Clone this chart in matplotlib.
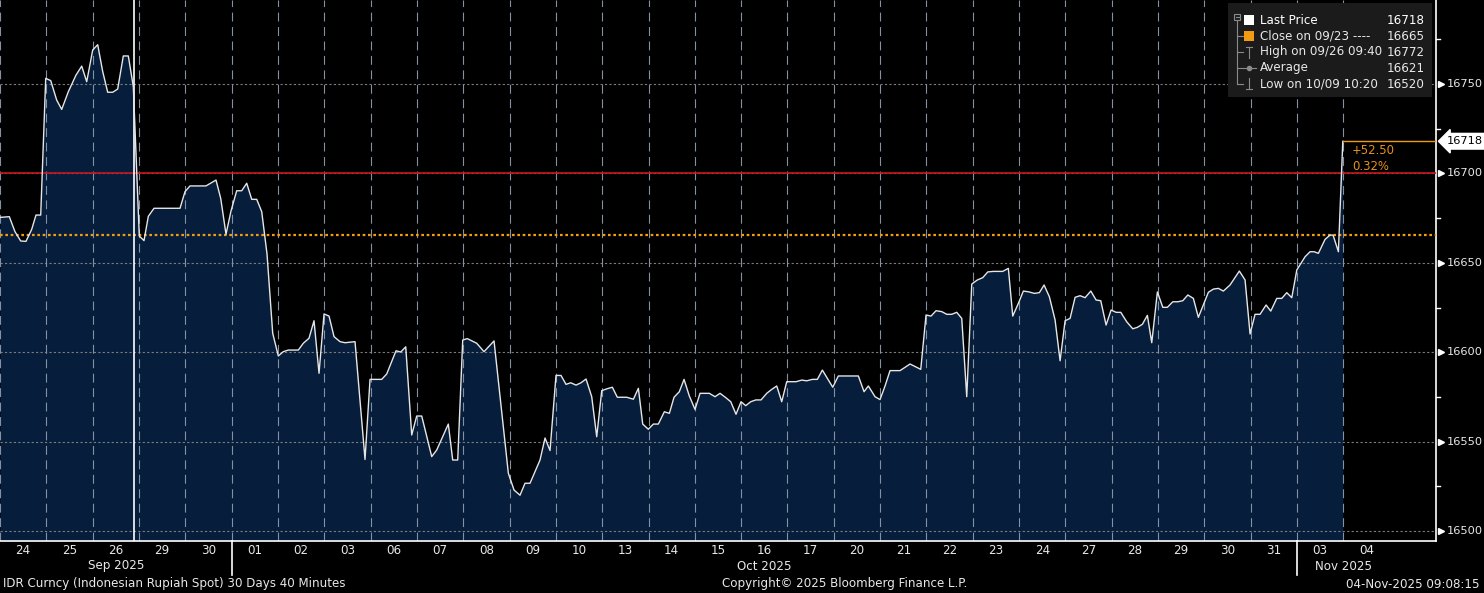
import matplotlib
matplotlib.use("Agg")
import matplotlib.pyplot as plt
import matplotlib.transforms as mtransforms
from matplotlib.patches import Rectangle
from matplotlib.lines import Line2D

# ---- data (trading days since 24 Sep open, IDR per USD) ----
t_days = [0, 0.201, 0.324, 0.447, 0.561, 0.684, 0.777, 0.879, 0.987, 1.095,
          1.224, 1.332, 1.475, 1.641, 1.764, 1.872, 2.001, 2.109, 2.217, 2.325,
          2.433, 2.541, 2.662, 2.770, 2.878, 3.007, 3.109, 3.202, 3.325, 3.886,
          3.994, 4.102, 4.447, 4.663, 4.765, 4.879, 4.987, 5.110, 5.218, 5.326,
          5.434, 5.542, 5.650, 5.764, 5.887, 6.008, 6.116, 6.224, 6.440, 6.548,
          6.671, 6.779, 6.887, 6.995, 7.103, 7.211, 7.340, 7.448, 7.664, 7.880,
          7.988, 8.240, 8.348, 8.549, 8.651, 8.759, 8.888, 8.996, 9.104, 9.320,
          9.428, 9.678, 9.773, 9.881, 9.989, 10.088, 10.291, 10.449, 10.665, 10.974,
          11.097, 11.226, 11.334, 11.442, 11.658, 11.766, 11.874, 12.003, 12.111, 12.219,
          12.321, 12.435, 12.543, 12.651, 12.774, 12.882, 12.990, 13.111, 13.219, 13.327,
          13.530, 13.673, 13.781, 13.875, 13.996, 14.104, 14.212, 14.342, 14.450, 14.551,
          14.665, 14.767, 14.881, 15.004, 15.112, 15.313, 15.436, 15.544, 15.667, 15.775,
          15.889, 15.997, 16.099, 16.207, 16.315, 16.429, 16.552, 16.660, 16.768, 16.876,
          16.984, 17.185, 17.308, 17.416, 17.537, 17.645, 17.753, 17.977, 18.098, 18.530,
          18.653, 18.746, 18.890, 18.998, 19.106, 19.214, 19.430, 19.646, 19.877, 19.991,
          20.099, 20.207, 20.330, 20.438, 20.546, 20.654, 20.762, 20.870, 20.978, 21.099,
          21.216, 21.324, 21.444, 21.647, 21.768, 21.863, 21.984, 22.092, 22.200, 22.330,
          22.438, 22.539, 22.654, 22.777, 22.885, 22.993, 23.101, 23.209, 23.317, 23.425,
          23.548, 23.662, 23.763, 23.878, 23.986, 24.094, 24.195, 24.324, 24.454, 24.553,
          24.661, 24.769, 24.864, 24.985, 25.102, 25.201, 25.318, 25.426, 25.534, 25.642,
          25.762, 25.870, 26.086, 26.194, 26.302, 26.410, 26.554, 26.755, 26.878, 26.986,
          27.094, 27.202, 27.332, 27.433, 27.563, 27.671, 27.779, 27.887, 27.995, 28.174,
          28.282, 28.368, 28.461, 28.605, 28.713, 28.778, 28.893, 28.988]
price = [16675.4, 16675.8, 16667.4, 16662.2, 16662.0, 16668.7, 16676.7, 16676.7, 16753.2, 16751.9,
         16741.0, 16735.8, 16745.7, 16755.0, 16760.0, 16751.3, 16769.0, 16772.0, 16757.0, 16745.4,
         16745.4, 16747.2, 16765.7, 16765.7, 16748.5, 16665.0, 16662.4, 16676.0, 16680.5, 16680.5,
         16689.8, 16693.0, 16693.0, 16696.3, 16686.0, 16666.0, 16679.0, 16690.3, 16690.3, 16694.5,
         16685.5, 16685.5, 16678.6, 16655.0, 16610.6, 16597.9, 16600.3, 16601.2, 16601.2, 16605.0,
         16607.8, 16617.6, 16588.2, 16621.4, 16620.2, 16608.7, 16605.9, 16605.3, 16605.9, 16540.0,
         16584.8, 16584.8, 16587.8, 16600.8, 16600.1, 16603.0, 16553.7, 16564.3, 16564.3, 16541.6,
         16545.3, 16559.8, 16539.7, 16539.7, 16606.8, 16607.6, 16605.0, 16600.3, 16606.3, 16532.3,
         16522.9, 16520.0, 16526.7, 16526.7, 16539.7, 16552.0, 16545.0, 16587.0, 16587.0, 16582.0,
         16582.9, 16581.6, 16582.9, 16585.0, 16575.1, 16552.7, 16578.5, 16579.6, 16580.4, 16574.8,
         16574.8, 16573.7, 16579.8, 16559.8, 16556.9, 16559.8, 16559.8, 16566.7, 16565.8, 16574.8,
         16577.9, 16584.8, 16575.5, 16568.0, 16577.0, 16577.0, 16575.1, 16577.0, 16574.6, 16572.3,
         16565.3, 16572.3, 16570.1, 16572.3, 16573.3, 16573.3, 16577.0, 16579.2, 16581.1, 16572.3,
         16583.5, 16583.5, 16584.4, 16584.0, 16584.8, 16584.8, 16590.0, 16580.4, 16586.7, 16586.7,
         16577.9, 16581.1, 16575.1, 16573.5, 16581.1, 16589.7, 16589.7, 16593.4, 16590.4, 16620.8,
         16620.2, 16623.2, 16622.7, 16621.2, 16621.2, 16622.3, 16618.9, 16575.1, 16638.1, 16640.4,
         16641.7, 16644.9, 16645.2, 16645.2, 16646.9, 16620.2, 16627.3, 16634.2, 16633.8, 16632.9,
         16633.3, 16637.6, 16631.0, 16618.0, 16595.2, 16617.6, 16618.9, 16630.7, 16631.6, 16630.5,
         16634.2, 16629.2, 16628.8, 16615.2, 16623.6, 16622.3, 16622.3, 16617.0, 16613.1, 16613.9,
         16615.6, 16620.6, 16605.3, 16633.7, 16625.1, 16625.1, 16628.2, 16628.2, 16628.8, 16632.0,
         16630.1, 16619.5, 16633.5, 16635.3, 16635.7, 16634.2, 16637.6, 16645.4, 16640.4, 16610.2,
         16621.2, 16621.2, 16626.4, 16623.0, 16630.1, 16630.1, 16633.3, 16630.5, 16646.0, 16653.4,
         16656.2, 16656.2, 16655.3, 16663.1, 16665.5, 16665.5, 16656.2, 16718.0]

day_labels = ["24", "25", "26", "29", "30", "01", "02", "03", "06", "07", "08", "09", "10",
              "13", "14", "15", "16", "17", "20", "21", "22", "23", "24", "27", "28", "29",
              "30", "31", "03", "04"]
months = ["Sep 2025", "Oct 2025", "Nov 2025"]
month_start = [0, 5, 28]           # day index where each month begins
month_end = [5, 28, 30]
y_ticks = [16500, 16550, 16600, 16650, 16700, 16750]
y_minor = [16525, 16575, 16625, 16675, 16725, 16775]

close_price = 16665.5
close_label = "09/23"
high_val, high_label = 16772, "09/26 09:40"
low_val, low_label = 16520, "10/09 10:20"
avg_val = 16621
red_level = 16700
cursor_day = 2.9

last_price = price[-1]
last_t = t_days[-1]

W, H = 1484, 593
BG = "#000000"
FILL = "#061e3c"
TXT = "#e8e8e8"
ORANGE = "#f39c12"
FS = 8.6

plt.rcParams["font.family"] = ["DejaVu Sans"]

fig = plt.figure(figsize=(W / 100, H / 100), dpi=100, facecolor=BG)
ax = fig.add_axes([0, 1 - 541 / H, 1436 / W, 541 / H])
ax.set_facecolor(BG)
ax.set_xlim(0, 31.0)
ax.set_ylim(16494.4, 16797.0)

ax.fill_between(t_days, price, 16494.4, color=FILL, lw=0, zorder=1)

# grid
for v in y_ticks:
    ax.axhline(v, color="#7c7c7c", lw=0.8, ls=(0, (2, 2)), zorder=2)
for d in range(0, 30):
    ax.axvline(d, color="#8391a3", lw=0.8, ls=(0, (8, 5)), zorder=2)

ax.axhline(red_level, color="#c8161d", lw=1.2, zorder=3)
ax.axhline(close_price, color=ORANGE, lw=1.6, ls=(0, (1.2, 1.2)), zorder=3)
ax.axvline(cursor_day, color="white", lw=1.2, zorder=4)

ax.plot(t_days, price, color="#e6e6e6", lw=1.0, zorder=5)
ax.plot([last_t, 31.0], [last_price, last_price], color=ORANGE, lw=1.0, zorder=5)

chg = last_price - close_price
ax.annotate(f"{chg:+.2f}", (last_t, last_price), xytext=(9, -9), textcoords="offset pixels",
            color="#e8901c", fontsize=8.4, va="center", ha="left")
ax.annotate(f"{chg / close_price * 100:.2f}%", (last_t, last_price), xytext=(9, -25),
            textcoords="offset pixels", color="#e8901c", fontsize=8.4, va="center", ha="left")

# axes frame
for s in ["top", "left"]:
    ax.spines[s].set_visible(False)
for s in ["bottom", "right"]:
    ax.spines[s].set_color("white")
    ax.spines[s].set_linewidth(1.2)
ax.set_xticks([])
ax.set_yticks([])

# right axis labels
ty = mtransforms.blended_transform_factory(ax.transAxes, ax.transData)
for v in y_minor:
    ax.plot([1.0, 1.003], [v, v], color="white", lw=1.0, transform=ty, clip_on=False)
for v in y_ticks:
    ax.plot([1.0035], [v], marker=">", ms=4, color="white", mec="white", transform=ty, clip_on=False)
    ax.text(1.0077, v, str(v), color=TXT, fontsize=8.2, va="center", ha="left", transform=ty)
ax.text(1.0077, last_price, f"{last_price:.0f}", color="black", fontsize=8.2, va="center", ha="left",
        transform=ty, bbox=dict(boxstyle="larrow,pad=0.25", fc="white", ec="white"), zorder=10)

# bottom labels
tx = mtransforms.blended_transform_factory(ax.transData, ax.transAxes)
for i, lab in enumerate(day_labels):
    ax.text(i + 0.5, -9 / 541, lab, color=TXT, fontsize=FS, ha="center", va="center", transform=tx)
for m, a, b in zip(months, month_start, month_end):
    ax.text((a + b) / 2, -25 / 541, m, color=TXT, fontsize=FS, ha="center", va="center", transform=tx)
for a in month_start[1:]:
    ax.add_line(Line2D([a, a], [0, -34 / 541], color="white", lw=1.2, transform=tx, clip_on=False))

# footer
fig.text(3 / W, 1 - 584 / H, "IDR Curncy (Indonesian Rupiah Spot) 30 Days 40 Minutes",
         color=TXT, fontsize=FS, va="center", ha="left")
fig.text(845 / W, 1 - 584 / H, "Copyright\u00a9 2025 Bloomberg Finance L.P.",
         color=TXT, fontsize=FS, va="center", ha="center")
fig.text(1480 / W, 1 - 584 / H, "04-Nov-2025 09:08:15",
         color=TXT, fontsize=FS, va="center", ha="right")

# legend box
def fx(x):
    return x / W


def fy(y):
    return 1 - y / H


fig.add_artist(Rectangle((fx(1228), fy(97)), 204 / W, 94 / H, transform=fig.transFigure,
                         fc="#1b1b1b", ec="none", zorder=20))
rows = [20, 36, 52, 68, 84]
names = ["Last Price", f"Close on {close_label} ----", f"High on {high_label}", "Average",
         f"Low on {low_label}"]
vals = [f"{last_price:.0f}", str(int(close_price)), str(high_val), str(avg_val), str(low_val)]
tree = "#8a8a8a"
fig.add_artist(Line2D([fx(1237), fx(1237)], [fy(21), fy(84)], color=tree, lw=0.8,
                      transform=fig.transFigure, zorder=21))
fig.add_artist(Rectangle((fx(1234), fy(20)), 6 / W, 6 / H, transform=fig.transFigure,
                         fc="#1b1b1b", ec=tree, lw=0.8, zorder=22))
fig.add_artist(Line2D([fx(1235.5), fx(1238.5)], [fy(17), fy(17)], color=tree, lw=0.8,
                      transform=fig.transFigure, zorder=23))
for r in rows[1:]:
    fig.add_artist(Line2D([fx(1237), fx(1243)], [fy(r), fy(r)], color=tree, lw=0.8,
                          transform=fig.transFigure, zorder=21))
fig.add_artist(Rectangle((fx(1244), fy(25)), 10 / W, 10 / H, transform=fig.transFigure,
                         fc="white", ec="none", zorder=22))
fig.add_artist(Rectangle((fx(1244), fy(41)), 10 / W, 10 / H, transform=fig.transFigure,
                         fc=ORANGE, ec="none", zorder=22))
# high / average / low glyphs
fig.add_artist(Line2D([fx(1246), fx(1252)], [fy(47), fy(47)], color=tree, lw=0.8,
                      transform=fig.transFigure, zorder=22))
fig.add_artist(Line2D([fx(1249), fx(1249)], [fy(47), fy(58)], color=tree, lw=0.8,
                      transform=fig.transFigure, zorder=22))
fig.add_artist(Line2D([fx(1243), fx(1256)], [fy(68), fy(68)], color=tree, lw=0.8,
                      transform=fig.transFigure, zorder=22))
fig.add_artist(Line2D([fx(1249)], [fy(68)], color=tree, marker="o", ms=3,
                      transform=fig.transFigure, zorder=22))
fig.add_artist(Line2D([fx(1246), fx(1252)], [fy(89), fy(89)], color=tree, lw=0.8,
                      transform=fig.transFigure, zorder=22))
fig.add_artist(Line2D([fx(1249), fx(1249)], [fy(78), fy(89)], color=tree, lw=0.8,
                      transform=fig.transFigure, zorder=22))
for r, n, v in zip(rows, names, vals):
    fig.text(fx(1260), fy(r), n, color="white" if r == rows[0] else TXT, fontsize=8.6,
             va="center", ha="left", zorder=23)
    fig.text(fx(1425), fy(r), v, color="white" if r == rows[0] else TXT, fontsize=8.6,
             va="center", ha="right", zorder=23)

fig.savefig("out.png", dpi=100, facecolor=BG)
